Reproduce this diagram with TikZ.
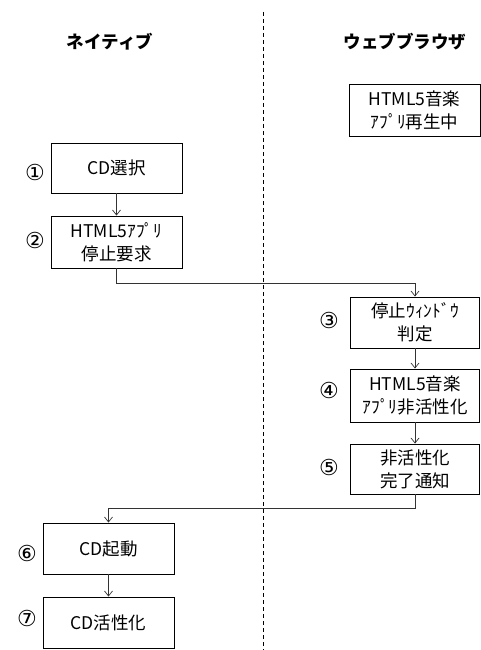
\documentclass[tikz,border=0pt]{standalone}
\usepackage{fontspec}
\setmainfont{Noto Sans CJK JP}
\newfontfamily\circfont{DejaVu Sans}
\usetikzlibrary{arrows.meta}
\begin{document}
\begin{tikzpicture}[x=1pt,y=-1pt,
  box/.style={draw=black,line width=0.9pt,inner sep=0pt,align=center,
    font=\fontsize{17.5}{23}\selectfont},
  num/.style={inner sep=0pt,font=\circfont\fontsize{22}{22}\selectfont},
  ttl/.style={inner sep=0pt,font=\fontsize{17.5}{20}\selectfont\bfseries},
  arr/.style={draw=black!80,line width=0.8pt,-{Straight Barb[length=5pt,width=8pt,line width=0.7pt]}}]
\useasboundingbox (0,0) rectangle (481,650);
\fill[white] (0,0) rectangle (481,650);
% separator
\draw[line width=0.8pt,dash pattern=on 4pt off 3pt] (263,12) -- (263,650);
% titles
\node[ttl] (t1) at (110,42) {ネイティブ};
\node[ttl] (t2) at (405,42) {ウェブブラウザ};
% boxes
\node[box,minimum width=131pt,minimum height=52pt] (b0) at (414.5,110) {HTML5音楽\\ｱﾌﾟﾘ再生中};
\node[box,minimum width=131pt,minimum height=50pt] (b1) at (116.5,168) {CD選択};
\node[box,minimum width=131pt,minimum height=52pt] (b2) at (116.5,242) {HTML5ｱﾌﾟﾘ\\停止要求};
\node[box,minimum width=129pt,minimum height=51pt] (b3) at (415,322.5) {停止ｳｨﾝﾄﾞｳ\\判定};
\node[box,minimum width=129pt,minimum height=53pt] (b4) at (415,395.5) {HTML5音楽\\ｱﾌﾟﾘ非活性化};
\node[box,minimum width=129pt,minimum height=50pt] (b5) at (415,469) {非活性化\\完了通知};
\node[box,minimum width=131pt,minimum height=51pt] (b6) at (108.5,548.5) {CD起動};
\node[box,minimum width=131pt,minimum height=51pt] (b7) at (108.5,622.5) {CD活性化};
% numbers
\node[num] (n1) at (35,172) {①};
\node[num] (n2) at (35,240) {②};
\node[num] (n3) at (329,320) {③};
\node[num] (n4) at (329,390) {④};
\node[num] (n5) at (329,467) {⑤};
\node[num] (n6) at (27,553) {⑥};
\node[num] (n7) at (27,618) {⑦};
% connectors
\coordinate (c1) at (116.5,283);
\coordinate (c2) at (415,508);
\draw[arr] (b1) -- (b2);
\draw[arr] (b2.south) -- (c1) -| (b3.north);
\draw[arr] (b3) -- (b4);
\draw[arr] (b4) -- (b5);
\draw[arr] (b5.south) -- (c2) -| (b6.north);
\draw[arr] (b6) -- (b7);
\end{tikzpicture}
\end{document}
